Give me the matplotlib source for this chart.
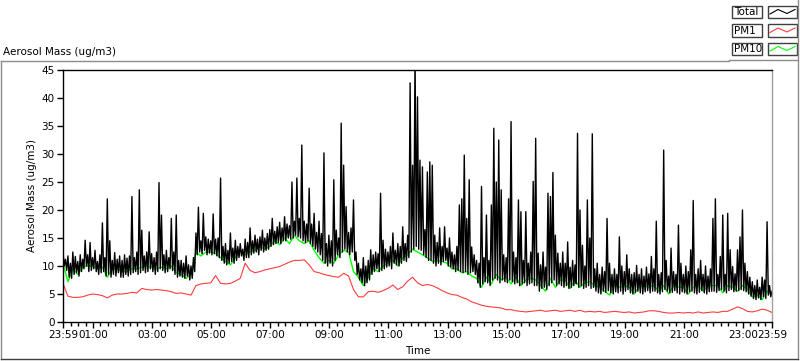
import numpy as np
import matplotlib.pyplot as plt
from matplotlib.patches import Rectangle
from matplotlib.lines import Line2D

W, H = 800, 361

# Total mass: band tops/spikes every 5 minutes from 23:59 (one row = one hour)
total = [
    12.5, 11.2, 11.8, 10.5, 12.5, 11.7, 10.8, 12.0, 11.2, 14.6, 12.0, 14.2,
    11.5, 12.8, 10.8, 12.0, 17.7, 11.5, 22.0, 14.5, 11.0, 12.4, 11.2, 11.8,
    11.0, 12.0, 11.4, 11.8, 22.4, 11.5, 12.5, 23.6, 16.4, 11.8, 12.5, 16.1,
    12.2, 11.5, 12.5, 24.9, 19.1, 12.0, 12.8, 11.5, 18.5, 12.5, 19.1, 11.0,
    11.0, 10.5, 11.8, 10.2, 10.0, 11.5, 15.9, 20.5, 14.5, 19.4, 15.2, 14.8,
    14.5, 19.3, 14.8, 15.0, 25.7, 13.5, 14.0, 12.8, 15.9, 13.2, 14.6, 13.5,
    14.0, 13.0, 14.8, 14.2, 16.8, 14.5, 15.5, 14.8, 15.2, 16.4, 15.0, 15.8,
    16.5, 18.5, 16.2, 17.0, 17.8, 16.8, 18.8, 17.5, 17.2, 25.0, 18.0, 25.7,
    18.5, 31.6, 18.0, 17.5, 23.9, 17.5, 19.4, 16.0, 18.0, 15.8, 30.2, 14.0,
    15.5, 14.5, 25.4, 16.4, 15.0, 35.5, 28.0, 20.6, 16.0, 16.8, 21.8, 12.5,
    10.5, 9.5, 11.5, 10.0, 11.0, 12.9, 12.0, 12.5, 12.2, 23.0, 14.6, 13.0,
    12.5, 13.5, 15.9, 12.8, 14.0, 13.5, 17.0, 14.0, 15.5, 42.7, 28.0, 48.0,
    40.2, 28.9, 27.7, 16.5, 26.8, 28.6, 28.0, 15.5, 14.2, 16.8, 13.5, 17.0,
    13.2, 15.0, 12.5, 12.0, 13.5, 20.9, 22.0, 29.8, 18.5, 25.4, 13.4, 12.0,
    11.0, 10.5, 24.2, 11.5, 19.1, 11.0, 20.9, 34.6, 25.0, 32.5, 23.6, 12.0,
    11.5, 22.0, 35.8, 12.5, 11.5, 21.8, 19.7, 11.0, 19.7, 10.5, 12.5, 25.1,
    32.8, 12.3, 10.2, 12.5, 9.8, 23.0, 22.4, 26.7, 15.5, 12.3, 10.5, 12.5,
    10.5, 14.3, 9.8, 11.0, 10.2, 33.7, 20.0, 13.7, 10.0, 21.8, 15.0, 33.6,
    9.5, 10.5, 8.5, 9.8, 9.0, 18.5, 10.5, 8.5, 9.5, 8.5, 15.2, 10.0,
    9.0, 12.0, 9.5, 8.5, 8.8, 10.1, 8.5, 9.5, 8.2, 9.8, 8.6, 11.7,
    9.5, 18.0, 8.5, 8.8, 30.7, 11.0, 8.2, 13.2, 9.0, 8.5, 17.3, 10.5,
    8.5, 10.0, 9.0, 12.9, 21.7, 8.5, 9.5, 11.0, 8.5, 10.0, 8.2, 9.5,
    18.5, 22.0, 8.5, 11.7, 19.1, 8.5, 19.4, 12.9, 9.9, 8.6, 12.9, 15.2,
    20.0, 10.5, 9.0, 8.0, 7.2, 6.5, 7.5, 6.2, 8.0, 7.5, 17.9, 6.5,
    5.5,
]

# Total mass: band bottoms, 2.5 minutes after each value above
total_low = [
    10.0, 9.2, 8.0, 7.8, 8.5, 8.8, 8.2, 9.0, 9.5, 10.0, 9.0, 9.2,
    9.5, 9.0, 8.5, 8.8, 9.0, 8.2, 8.5, 8.0, 8.5, 8.2, 8.8, 8.0,
    8.0, 8.5, 8.2, 8.5, 8.8, 9.0, 8.5, 8.8, 9.2, 8.8, 9.0, 9.5,
    9.0, 8.5, 9.0, 9.5, 9.2, 8.8, 9.0, 9.5, 9.2, 8.5, 8.0, 8.2,
    8.0, 7.8, 8.2, 7.5, 7.8, 9.0, 12.0, 12.5, 12.2, 12.8, 12.0, 12.3,
    12.0, 12.2, 11.8, 11.5, 11.0, 10.5, 10.2, 10.5, 10.8, 10.5, 11.0, 11.5,
    11.8, 11.0, 11.5, 11.5, 12.0, 12.3, 12.5, 12.0, 12.8, 12.5, 12.8, 13.0,
    13.5, 13.8, 14.0, 14.2, 14.0, 14.5, 14.5, 15.0, 14.8, 15.0, 15.5, 15.2,
    15.0, 14.5, 14.2, 14.5, 14.0, 13.5, 13.0, 12.5, 12.0, 11.0, 10.5, 10.0,
    10.5, 10.0, 11.0, 12.0, 11.5, 12.5, 13.0, 12.5, 12.0, 12.5, 11.0, 8.5,
    7.5, 7.0, 6.5, 7.0, 7.5, 8.5, 9.0, 9.5, 9.0, 9.2, 9.5, 9.8,
    10.0, 9.5, 10.5, 10.2, 10.0, 10.5, 11.0, 10.8, 11.5, 12.5, 13.0, 13.5,
    13.0, 12.8, 12.0, 11.5, 11.0, 11.0, 10.5, 10.0, 10.5, 10.2, 10.8, 11.0,
    10.0, 9.8, 9.5, 9.0, 9.2, 9.0, 8.8, 9.0, 8.5, 8.8, 9.0, 8.5,
    7.0, 6.2, 6.8, 7.2, 7.0, 6.5, 7.5, 7.8, 7.5, 7.0, 7.5, 7.2,
    7.0, 7.5, 7.2, 6.8, 7.0, 6.5, 6.8, 7.0, 6.5, 6.8, 7.0, 6.5,
    6.5, 5.5, 6.0, 6.2, 5.8, 6.5, 7.0, 7.5, 6.5, 6.8, 6.5, 6.2,
    6.5, 6.0, 6.2, 6.5, 6.8, 6.2, 6.5, 6.0, 6.2, 6.5, 6.0, 6.2,
    5.5, 5.2, 5.0, 5.5, 5.3, 5.6, 5.2, 5.0, 5.4, 5.2, 5.5, 5.0,
    5.5, 5.8, 5.2, 5.0, 5.3, 5.5, 5.2, 5.0, 5.4, 5.6, 5.2, 5.5,
    5.5, 5.2, 5.0, 5.4, 5.8, 5.5, 5.2, 5.3, 5.6, 5.2, 5.0, 5.4,
    5.2, 5.0, 5.4, 5.5, 5.2, 5.0, 5.3, 5.6, 5.2, 5.0, 5.4, 5.5,
    5.5, 5.3, 5.6, 5.8, 5.5, 5.2, 5.6, 5.8, 5.4, 5.5, 5.6, 5.8,
    5.6, 5.4, 5.0, 4.6, 4.2, 4.0, 4.3, 4.0, 4.5, 4.2, 4.8, 4.5,
]

# PM10 and PM1, one value every 10 minutes
pm10 = [
    10.5, 7.2, 9.5, 8.5, 9.8, 10.0,
    10.0, 9.5, 9.8, 8.0, 9.5, 9.5,
    9.0, 9.0, 9.5, 9.5, 9.8, 10.0,
    9.8, 9.5, 9.8, 9.5, 10.0, 8.8,
    8.5, 7.8, 8.5, 12.5, 11.8, 12.5,
    12.5, 12.2, 11.5, 10.8, 10.2, 11.5,
    12.5, 12.0, 12.5, 12.8, 13.5, 13.0,
    13.5, 14.5, 13.8, 15.0, 14.0, 15.5,
    14.5, 14.0, 14.5, 12.8, 11.5, 10.5,
    11.0, 10.5, 12.0, 12.8, 12.5, 9.0,
    8.0, 6.5, 8.0, 9.5, 9.0, 10.0,
    10.5, 11.0, 10.0, 11.5, 12.0, 13.0,
    12.5, 12.0, 11.5, 10.8, 11.0, 10.8,
    10.5, 9.5, 9.5, 8.8, 9.0, 8.2,
    7.8, 6.2, 8.0, 6.8, 8.5, 7.5,
    8.0, 6.8, 8.0, 6.5, 7.5, 7.8,
    7.5, 6.5, 5.5, 7.8, 6.2, 7.5,
    7.5, 6.0, 7.5, 6.2, 7.0, 7.2,
    6.5, 6.2, 5.5, 4.8, 6.5, 6.2,
    6.5, 6.2, 5.0, 6.2, 6.5, 6.2,
    6.5, 5.5, 6.5, 5.0, 6.5, 6.2,
    6.2, 5.0, 6.2, 6.5, 5.5, 6.5,
    6.5, 6.5, 5.2, 6.5, 6.2, 5.5,
    6.5, 5.8, 4.5, 4.8, 4.0, 5.5,
    4.8,
]

pm1 = [
    6.9, 4.6, 4.4, 4.4, 4.5, 4.8,
    5.0, 4.9, 4.7, 4.3, 4.8, 5.0,
    5.0, 5.1, 5.3, 5.2, 6.0, 5.8,
    5.7, 5.8, 5.7, 5.6, 5.4, 5.1,
    5.2, 5.0, 4.8, 6.5, 6.8, 6.9,
    7.0, 8.3, 6.9, 6.8, 6.9, 7.3,
    7.8, 10.5, 9.2, 8.8, 9.0, 9.3,
    9.5, 9.7, 9.9, 10.3, 10.7, 11.0,
    11.0, 11.1, 10.2, 9.0, 8.8, 8.5,
    8.3, 8.1, 8.0, 8.7, 8.2, 5.8,
    4.5, 4.5, 5.4, 5.5, 5.3, 5.6,
    6.0, 6.6, 5.8, 6.3, 7.3, 8.0,
    7.0, 6.5, 6.7, 6.5, 6.1, 5.6,
    5.2, 4.9, 4.8, 4.4, 4.1, 3.6,
    3.3, 3.0, 2.8, 2.7, 2.6, 2.5,
    2.2, 2.2, 2.0, 1.9, 1.8, 1.9,
    2.0, 2.1, 1.9, 2.0, 2.1, 1.9,
    2.0, 2.1, 1.9, 2.1, 1.8, 1.9,
    1.8, 1.9, 1.7, 1.8, 1.9, 1.8,
    1.7, 1.8, 1.6, 1.7, 1.8, 2.0,
    2.0, 1.9, 1.7, 1.6, 1.6, 1.7,
    1.6, 1.7, 1.6, 1.8, 1.6, 1.7,
    1.8, 1.7, 1.9, 1.9, 2.3, 2.7,
    2.4, 1.9, 1.8, 2.0, 2.3, 2.1,
    1.7,
]

tick_minutes = [0, 61, 181, 301, 421, 541, 661, 781, 901, 1021, 1141, 1261, 1381, 1440]
tick_labels = ["23:59", "01:00", "03:00", "05:00", "07:00", "09:00", "11:00",
               "13:00", "15:00", "17:00", "19:00", "21:00", "23:00", "23:59"]

legend_names = ["Total", "PM1", "PM10"]
colors = {"Total": "black", "PM1": "#ff3c3c", "PM10": "#00ff00"}

plt.rcParams["font.family"] = "DejaVu Sans"
plt.rcParams["font.size"] = 7.5


def fx(x):
    return x / W


def fy(y):
    return 1 - y / H


fig = plt.figure(figsize=(W / 100, H / 100), dpi=100)
ax = fig.add_axes([fx(63), fy(322), (772 - 63) / W, (322 - 70) / H])

# interleave band tops and bottoms of the total trace
t_hi = np.arange(len(total)) * 5.0
t_lo = np.arange(len(total_low)) * 5.0 + 2.5
t_tot = np.empty(len(t_hi) + len(t_lo))
v_tot = np.empty_like(t_tot)
t_tot[0::2], v_tot[0::2] = t_hi, total
t_tot[1::2], v_tot[1::2] = t_lo, total_low

t10 = np.arange(len(pm1)) * 10
ax.plot(t10, pm1, color=colors["PM1"], lw=0.8)
ax.plot(t10, pm10, color=colors["PM10"], lw=1.0)
ax.plot(t_tot, v_tot, color=colors["Total"], lw=1.0)

ax.set_xlim(0, 1440)
ax.set_ylim(0, 45)
ax.set_yticks(range(0, 46, 5))
ax.set_xticks(tick_minutes)
ax.set_xticklabels(tick_labels)
minor = [1 + 15 * k for k in range(1, 96)]
ax.set_xticks([m for m in minor if m not in tick_minutes], minor=True)
ax.tick_params(axis="both", which="major", length=4, width=1, pad=2, labelsize=7.5)
ax.tick_params(axis="x", which="minor", length=3, width=1)

for s in ["left", "bottom", "top"]:
    ax.spines[s].set_color("black")
    ax.spines[s].set_linewidth(1)
ax.spines["right"].set_color("#a0a0a0")
ax.spines["right"].set_linewidth(1)

ax.set_ylabel("Aerosol Mass (ug/m3)", fontsize=7.5, labelpad=3)
ax.set_xlabel("Time", fontsize=7.5, labelpad=4)

# outer panel frame
gray = "#8c8c8c"
fig.add_artist(Line2D([fx(0.5), fx(729)], [fy(61), fy(61)], color=gray, lw=1))
fig.add_artist(Line2D([fx(729), fx(798)], [fy(60), fy(60)], color=gray, lw=1))
fig.add_artist(Line2D([fx(0.5), fx(0.5)], [fy(61), fy(359)], color=gray, lw=1))
fig.add_artist(Line2D([fx(798), fx(798)], [fy(0), fy(359)], color=gray, lw=1))
fig.add_artist(Line2D([fx(0.5), fx(798)], [fy(359), fy(359)], color="#404040", lw=1))

fig.text(fx(3), fy(52), "Aerosol Mass (ug/m3)", ha="left", va="center", fontsize=7.5)

# legend boxes
for i, name in enumerate(legend_names):
    y0 = 6 + i * 18.5
    fig.add_artist(Rectangle((fx(732), fy(y0 + 12)), 30 / W, 12 / H,
                             fill=False, edgecolor="#404040", lw=1))
    fig.add_artist(Rectangle((fx(768), fy(y0 + 12)), 29 / W, 12 / H,
                             fill=False, edgecolor="#404040", lw=1))
    fig.text(fx(734), fy(y0 + 6), name, ha="left", va="center", fontsize=7.5)
    xs = [770, 778, 787, 795]
    ys = [y0 + 8, y0 + 3.5, y0 + 7.5, y0 + 3.5]
    fig.add_artist(Line2D([fx(x) for x in xs], [fy(y) for y in ys],
                          color=colors[name], lw=0.8))

fig.savefig("out.png", dpi=100)
